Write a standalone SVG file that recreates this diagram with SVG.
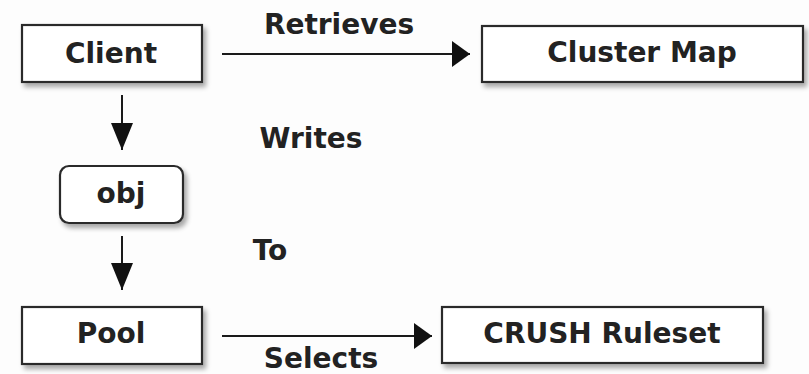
<svg xmlns="http://www.w3.org/2000/svg" width="809" height="374" viewBox="0 0 809 374">
  <style>
    .box { fill: #ffffff; stroke: #2a2a2a; stroke-width: 2.2; filter: url(#shadow); }
    .label { font-family: "DejaVu Sans", "Liberation Sans", sans-serif; font-weight: bold; font-size: 28px; fill: #222222; text-anchor: middle; }
    .edge { stroke: #1a1a1a; stroke-width: 2; fill: none; }
    .edge-h { marker-end: url(#arrowH); }
    .edge-v { marker-end: url(#arrowV); }
  </style>
  <defs>
    <filter id="shadow" x="-10%" y="-20%" width="130%" height="160%">
      <feGaussianBlur in="SourceAlpha" stdDeviation="2.5"/>
      <feOffset dx="3" dy="4" result="b"/>
      <feComponentTransfer><feFuncA type="linear" slope="0.35"/></feComponentTransfer>
      <feMerge><feMergeNode/><feMergeNode in="SourceGraphic"/></feMerge>
    </filter>
    <marker id="arrowH" markerUnits="userSpaceOnUse" markerWidth="20" markerHeight="26" refX="18" refY="13" orient="auto">
      <path d="M0,0 L18,13 L0,26 Z" fill="#111"/>
    </marker>
    <marker id="arrowV" markerUnits="userSpaceOnUse" markerWidth="28" markerHeight="24" refX="27" refY="11" orient="auto">
      <path d="M0,0 L27,11 L0,22 Z" fill="#111"/>
    </marker>
  </defs>

  <rect width="809" height="374" fill="#fdfdfd"/>

  <g id="connectors">
    <line class="edge edge-h" x1="222" y1="54" x2="470" y2="54"/>
    <line class="edge edge-v" x1="122" y1="95" x2="122" y2="150"/>
    <line class="edge edge-v" x1="122" y1="236" x2="122" y2="290"/>
    <line class="edge edge-h" x1="222" y1="336" x2="432" y2="336"/>
    <text class="label" x="339" y="34">Retrieves</text>
    <text class="label" x="311" y="148">Writes</text>
    <text class="label" x="270" y="260">To</text>
    <text class="label" x="321" y="368">Selects</text>
  </g>

  <g id="client">
    <rect class="box" x="22" y="25" width="180" height="57"/>
    <text class="label" x="111" y="63">Client</text>
  </g>

  <g id="cluster-map">
    <rect class="box" x="482" y="26" width="321" height="56"/>
    <text class="label" x="642" y="62">Cluster Map</text>
  </g>

  <g id="obj">
    <rect class="box" x="60" y="166" width="123" height="57" rx="9" ry="9"/>
    <text class="label" x="121" y="203">obj</text>
  </g>

  <g id="pool">
    <rect class="box" x="22" y="307" width="180" height="57"/>
    <text class="label" x="111" y="343">Pool</text>
  </g>

  <g id="crush-ruleset">
    <rect class="box" x="442" y="307" width="321" height="56"/>
    <text class="label" x="602" y="343">CRUSH Ruleset</text>
  </g>
</svg>
